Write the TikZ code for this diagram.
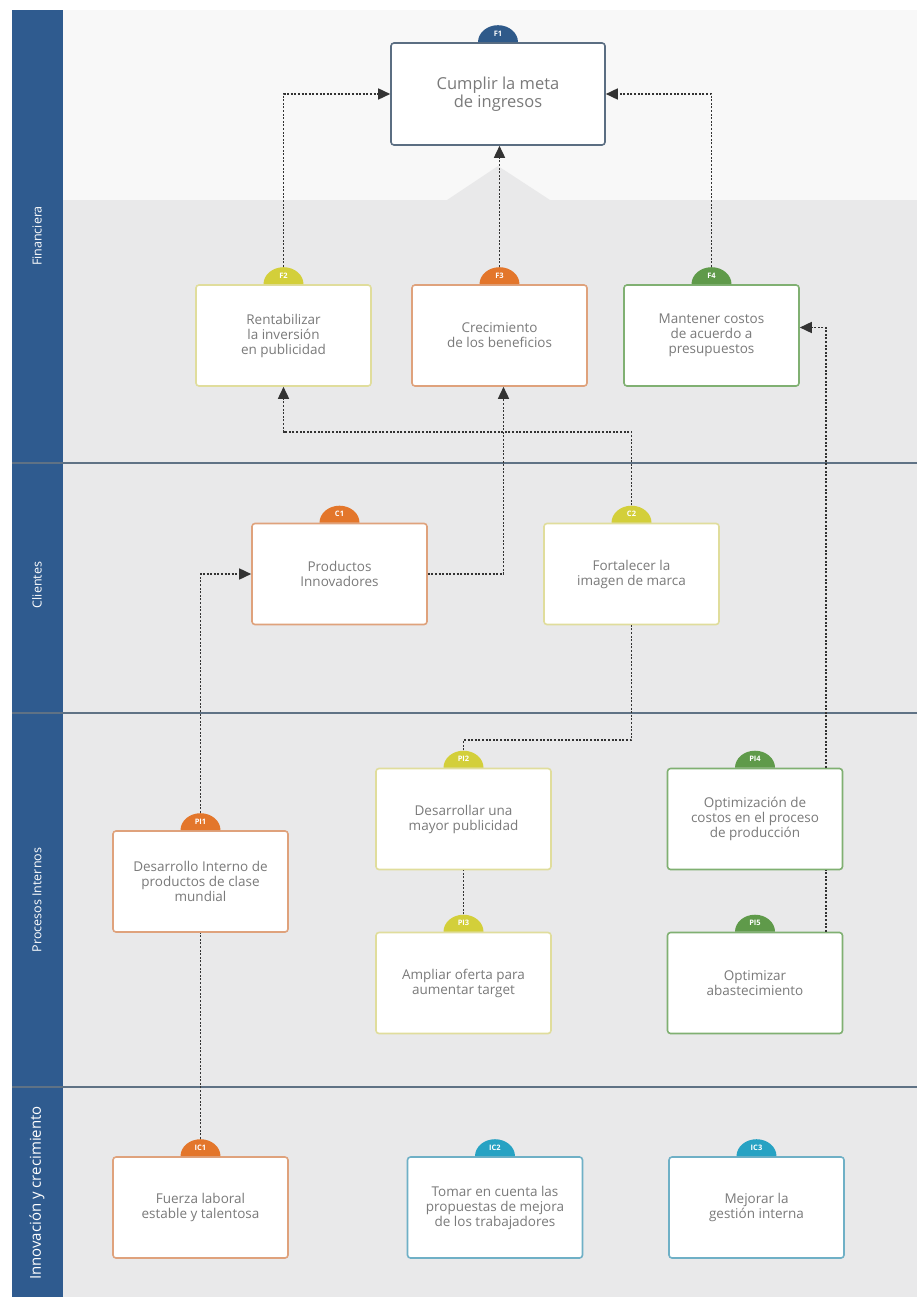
\documentclass[tikz,border=0pt]{standalone}
\usepackage{fontspec}
\setmainfont{Open Sans}
\usetikzlibrary{arrows.meta,calc}

\definecolor{band}{HTML}{2F5B8F}
\definecolor{laneline}{HTML}{5F7285}
\definecolor{lanegrey}{HTML}{E9E9EA}
\definecolor{topbg}{HTML}{F8F8F8}
\definecolor{boxtext}{HTML}{7A7A7A}
\definecolor{linkcol}{HTML}{333333}
% tab colours
\definecolor{tblue}{HTML}{2F5A8A}
\definecolor{tyellow}{HTML}{D3CF3A}
\definecolor{torange}{HTML}{E3762B}
\definecolor{tgreen}{HTML}{5F9A4A}
\definecolor{tcyan}{HTML}{27A2C3}
% border colours
\definecolor{bblue}{HTML}{5B6E82}
\definecolor{byellow}{HTML}{E0DD9C}
\definecolor{borange}{HTML}{DFA27C}
\definecolor{bgreen}{HTML}{80B072}
\definecolor{bcyan}{HTML}{6FB0C6}

% coloured dome with its code, sitting on top of a box
\newcommand\boxtab[4]{%
  \fill[#3] ([xshift=-20pt]#1.north) arc[start angle=180,end angle=0,x radius=20pt,y radius=17pt] -- cycle;
  \node[tablbl, anchor=south] (#2) at (#1.north) {#4};}

\begin{document}
\begin{tikzpicture}[x=1pt,y=-1pt,
  objbox/.style={draw, line width=1.6pt, fill=white, rounded corners=3pt,
    minimum width=175pt, minimum height=101pt, inner sep=0pt, align=center,
    text=boxtext, font=\fontsize{13.5}{15}\selectfont},
  tablbl/.style={minimum width=40pt, minimum height=17pt, inner sep=0pt,
    text=white, font=\fontsize{7.5}{8}\selectfont\bfseries},
  lanelbl/.style={rotate=90, text=white, inner sep=0pt, font=\fontsize{12.5}{14}\selectfont},
  plain/.style={draw=linkcol, line width=1.6pt, dash pattern=on 2pt off 1.6pt},
  link/.style={plain, -{Triangle[length=12pt,width=11pt]}},
  laneline/.style={draw=laneline, line width=2.2pt}
]
\useasboundingbox (0,0) rectangle (917,1297);
\fill[white] (0,0) rectangle (917,1297);

% lane backgrounds
\fill[topbg] (63,10) rectangle (917,200);
\fill[lanegrey] (63,200) rectangle (917,1297);
\fill[lanegrey] (447,200) -- (498,166) -- (550,200) -- cycle;
\fill[band] (12,10) rectangle (63,1297);

% lane separators
\draw[laneline] (12,463) -- (917,463);
\draw[laneline] (12,713) -- (917,713);
\draw[laneline] (12,1087) -- (917,1087);

% lane titles
\node[lanelbl] (Lfin) at (37,236) {Financiera};
\node[lanelbl] (Lcli) at (37,585) {Clientes};
\node[lanelbl] (Lpro) at (37,900) {Procesos Internos};
\node[lanelbl, font=\fontsize{15}{17}\selectfont] (Linn) at (37,1193) {Innovación y crecimiento};

% objectives
\node[objbox, draw=bblue, minimum width=214pt, minimum height=102pt,
      font=\fontsize{16.5}{17.5}\selectfont] (F1) at (498,94) {Cumplir la meta\\de ingresos};
\node[objbox, draw=byellow] (F2) at (283.5,335.5) {Rentabilizar\\la inversión\\en publicidad};
\node[objbox, draw=borange] (F3) at (499.5,335.5) {Crecimiento\\de los beneficios};
\node[objbox, draw=bgreen] (F4) at (711.5,335.5) {Mantener costos\\de acuerdo a\\presupuestos};

\node[objbox, draw=borange] (C1) at (339.5,574) {Productos\\Innovadores};
\node[objbox, draw=byellow] (C2) at (631.5,574) {Fortalecer la\\imagen de marca};

\node[objbox, draw=borange] (PI1) at (200.5,881.5) {Desarrollo Interno de\\productos de clase\\mundial};
\node[objbox, draw=byellow] (PI2) at (463.5,819) {Desarrollar una\\mayor publicidad};
\node[objbox, draw=byellow] (PI3) at (463.5,983) {Ampliar oferta para\\aumentar target};
\node[objbox, draw=bgreen] (PI4) at (755,819) {Optimización de\\costos en el proceso\\de producción};
\node[objbox, draw=bgreen] (PI5) at (755,983) {Optimizar\\abastecimiento};

\node[objbox, draw=borange] (IC1) at (200.5,1207.5) {Fuerza laboral\\estable y talentosa};
\node[objbox, draw=bcyan] (IC2) at (495,1207.5) {Tomar en cuenta las\\propuestas de mejora\\de los trabajadores};
\node[objbox, draw=bcyan] (IC3) at (756.5,1207.5) {Mejorar la\\gestión interna};

% code tabs
\boxtab{F1}{F1t}{tblue}{F1}
\boxtab{F2}{F2t}{tyellow}{F2}
\boxtab{F3}{F3t}{torange}{F3}
\boxtab{F4}{F4t}{tgreen}{F4}
\boxtab{C1}{C1t}{torange}{C1}
\boxtab{C2}{C2t}{tyellow}{C2}
\boxtab{PI1}{PI1t}{torange}{PI1}
\boxtab{PI2}{PI2t}{tyellow}{PI2}
\boxtab{PI3}{PI3t}{tyellow}{PI3}
\boxtab{PI4}{PI4t}{tgreen}{PI4}
\boxtab{PI5}{PI5t}{tgreen}{PI5}
\boxtab{IC1}{IC1t}{torange}{IC1}
\boxtab{IC2}{IC2t}{tcyan}{IC2}
\boxtab{IC3}{IC3t}{tcyan}{IC3}

% routing levels
\coordinate (k1) at (0,432);
\coordinate (k2) at (0,740);
\coordinate (k3) at (826,0);

% cause-effect links
\draw[link] (F2t.north) |- (F1.west);
\draw[link] (F3t.north) -- (F3t.north |- F1.south);
\draw[link] (F4t.north) |- (F1.east);
\draw[link] (C2t.north) -- (C2t.north |- k1) -| (F2.south);
\draw[link] (C1.east) -| ([xshift=4pt]F3.south);
\draw[link] (PI1t.north) |- (C1.west);
\draw[plain] (PI2t.north) |- (C2.south |- k2) -- (C2.south);
\draw[link] (PI4.north -| k3) |- ([yshift=8pt]F4.east);
\draw[plain] (PI5.north -| k3) -- (PI4.south -| k3);
\draw[plain] (PI3t.north) -- (PI2.south);
\draw[plain] (IC1t.north) -- (PI1.south);
\end{tikzpicture}
\end{document}
